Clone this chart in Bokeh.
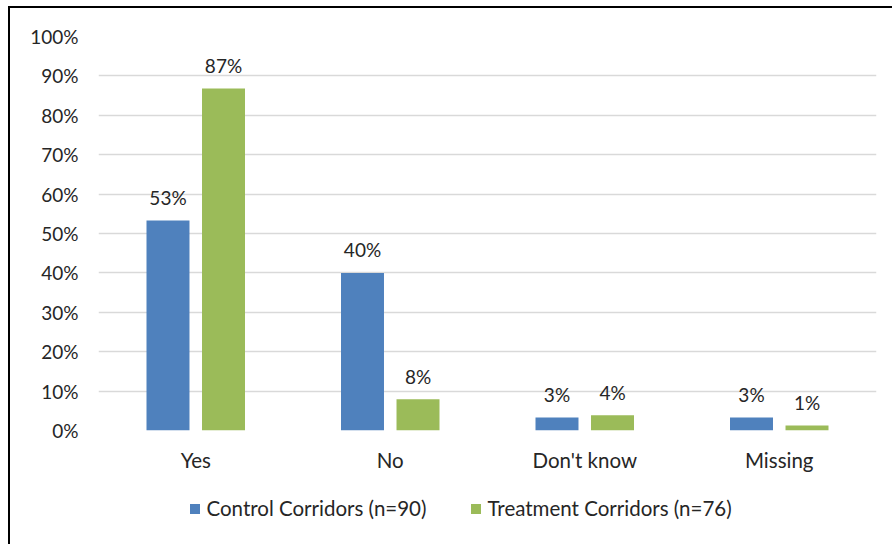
from bokeh.plotting import figure
from bokeh.layouts import column
from bokeh.models import (FactorRange, ColumnDataSource, LabelSet, NumeralTickFormatter,
                          Legend, LegendItem, Range1d)
from bokeh.transform import dodge
from bokeh.core.properties import value
from bokeh.embed import file_html
from bokeh.resources import INLINE

categories = ["Yes", "No", "Don't know", "Missing"]
control = [0.533, 0.400, 0.033, 0.033]
treatment = [0.868, 0.079, 0.039, 0.013]
series_names = ["Control Corridors (n=90)", "Treatment Corridors (n=76)"]
y_ticks = [0, 0.1, 0.2, 0.3, 0.4, 0.5, 0.6, 0.7, 0.8, 0.9, 1.0]

BLUE = "#4f81bd"
GREEN = "#9bbb59"
TEXT = "#262626"
FONT = "Lato"

src = ColumnDataSource(dict(
    cat=categories,
    control=control,
    treatment=treatment,
    control_lbl=[f"{round(v*100)}%" for v in control],
    treatment_lbl=[f"{round(v*100)}%" for v in treatment],
))

xr = FactorRange(*categories, range_padding=0)
p = figure(
    x_range=xr,
    y_range=(0, 1.0),
    width=882, height=468,
    min_border_left=88, min_border_right=16, min_border_top=28, min_border_bottom=46,
    output_backend="svg", toolbar_location=None,
)
p.outline_line_color = None
p.background_fill_color = "white"
p.border_fill_color = "white"

off = 0.1427
w = 0.221
p.vbar(x=dodge("cat", -off, range=xr), top="control", width=w, source=src,
       fill_color=BLUE, line_color=None)
p.vbar(x=dodge("cat", off, range=xr), top="treatment", width=w, source=src,
       fill_color=GREEN, line_color=None)

for col, lbl, d in (("control", "control_lbl", -off), ("treatment", "treatment_lbl", off)):
    ls = LabelSet(x=dodge("cat", d, range=xr), y=col, text=lbl, source=src,
                  text_align="center", text_baseline="middle", y_offset=23,
                  text_font=value(FONT), text_font_size="19px", text_color=TEXT)
    p.add_layout(ls)

p.yaxis.ticker = y_ticks
p.yaxis.formatter = NumeralTickFormatter(format="0%")
for ax in (p.xaxis, p.yaxis):
    ax.axis_line_color = None
    ax.major_tick_line_color = None
    ax.minor_tick_line_color = None
    ax.major_label_text_font = FONT
    ax.major_label_text_color = TEXT
p.yaxis.major_label_text_font_size = "19px"
p.xaxis.major_label_text_font_size = "20.5px"
p.yaxis.major_label_standoff = 14
p.xaxis.major_label_standoff = 11

p.xgrid.grid_line_color = None
p.ygrid.grid_line_color = "#d9d9d9"
p.ygrid.grid_line_width = 1.5

# legend strip under the chart (its markers lie outside its visible y range)
leg = figure(width=882, height=68, x_range=xr, y_range=Range1d(10, 11),
             x_axis_type=None, y_axis_type=None,
             min_border_left=88, min_border_right=16, min_border_top=0, min_border_bottom=0,
             output_backend="svg", toolbar_location=None)
leg.outline_line_color = None
leg.grid.grid_line_color = None
lr1 = leg.scatter(x=dodge("cat", -off, range=xr), y="control", source=src, marker="square",
                  size=10, fill_color=BLUE, line_color=None)
lr2 = leg.scatter(x=dodge("cat", off, range=xr), y="treatment", source=src, marker="square",
                  size=10, fill_color=GREEN, line_color=None)
legend = Legend(items=[LegendItem(label=series_names[0], renderers=[lr1]),
                       LegendItem(label=series_names[1], renderers=[lr2])],
                location=(83.5, 23.5), orientation="horizontal",
                glyph_width=25, glyph_height=25, label_standoff=0, spacing=36,
                padding=0, margin=0, border_line_color=None, background_fill_alpha=0,
                label_text_font=FONT, label_text_font_size="20.5px", label_text_color=TEXT)
leg.add_layout(legend, "center")

root = column(p, leg, spacing=0)
root.styles = {"border-left": "2px solid black", "border-top": "2px solid black",
               "margin-left": "8px", "margin-top": "6px"}

open("out.html", "w").write(file_html(root, INLINE))
